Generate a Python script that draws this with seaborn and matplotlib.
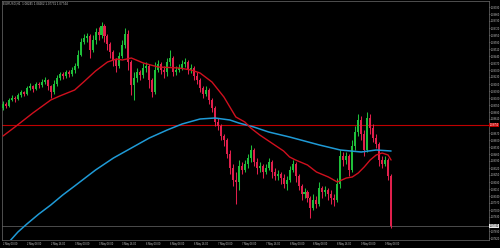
import matplotlib
matplotlib.use("Agg")
import matplotlib.pyplot as plt
import numpy as np
import pandas as pd
import seaborn as sns

# ---------------- data (EURUSD H1) ----------------
first_open = 1.0892
closes = [1.0896, 1.0894, 1.0900, 1.0902, 1.0901, 1.0905, 1.0908, 1.0906, 1.0912, 1.0914,
          1.0911, 1.0916, 1.0915, 1.0918, 1.0920, 1.0914, 1.0908, 1.0916, 1.0922, 1.0926,
          1.0924, 1.0928, 1.0926, 1.0930, 1.0934, 1.0945, 1.0958, 1.0962, 1.0964, 1.0950,
          1.0960, 1.0968, 1.0965, 1.0974, 1.0964, 1.0956, 1.0948, 1.0940, 1.0934, 1.0944,
          1.0955, 1.0966, 1.0938, 1.0915, 1.0922, 1.0928, 1.0925, 1.0932, 1.0934, 1.0920,
          1.0908, 1.0930, 1.0936, 1.0930, 1.0928, 1.0938, 1.0942, 1.0928, 1.0930, 1.0932,
          1.0936, 1.0938, 1.0930, 1.0932, 1.0924, 1.0920, 1.0912, 1.0906, 1.0910, 1.0900,
          1.0892, 1.0878, 1.0874, 1.0864, 1.0860, 1.0846, 1.0832, 1.0820, 1.0818, 1.0834,
          1.0830, 1.0836, 1.0842, 1.0850, 1.0838, 1.0832, 1.0834, 1.0828, 1.0832, 1.0838,
          1.0828, 1.0824, 1.0826, 1.0822, 1.0816, 1.0820, 1.0830, 1.0836, 1.0824, 1.0814,
          1.0806, 1.0808, 1.0802, 1.0792, 1.0800, 1.0796, 1.0812, 1.0808, 1.0810, 1.0806,
          1.0802, 1.0800, 1.0816, 1.0844, 1.0840, 1.0844, 1.0830, 1.0854, 1.0868, 1.0880,
          1.0866, 1.0850, 1.0882, 1.0872, 1.0862, 1.0856, 1.0840, 1.0836, 1.0840, 1.0824,
          1.0774]
highs = [1.0899, 1.0898, 1.0902, 1.0905, 1.0904, 1.0907, 1.0910, 1.0909, 1.0914, 1.0917,
         1.0915, 1.0918, 1.0918, 1.0921, 1.0923, 1.0921, 1.0915, 1.0920, 1.0925, 1.0928,
         1.0928, 1.0930, 1.0930, 1.0933, 1.0937, 1.0950, 1.0962, 1.0966, 1.0967, 1.0966,
         1.0965, 1.0972, 1.0973, 1.0978, 1.0976, 1.0966, 1.0958, 1.0950, 1.0942, 1.0948,
         1.0960, 1.0972, 1.0970, 1.0940, 1.0928, 1.0932, 1.0930, 1.0937, 1.0938, 1.0936,
         1.0922, 1.0938, 1.0940, 1.0938, 1.0934, 1.0942, 1.0950, 1.0944, 1.0934, 1.0936,
         1.0940, 1.0942, 1.0940, 1.0936, 1.0934, 1.0928, 1.0922, 1.0914, 1.0914, 1.0912,
         1.0902, 1.0894, 1.0882, 1.0876, 1.0866, 1.0862, 1.0850, 1.0836, 1.0828, 1.0840,
         1.0838, 1.0840, 1.0846, 1.0855, 1.0852, 1.0842, 1.0838, 1.0836, 1.0836, 1.0842,
         1.0840, 1.0832, 1.0830, 1.0828, 1.0826, 1.0824, 1.0834, 1.0840, 1.0838, 1.0826,
         1.0816, 1.0812, 1.0810, 1.0804, 1.0806, 1.0804, 1.0818, 1.0814, 1.0814, 1.0812,
         1.0810, 1.0806, 1.0822, 1.0850, 1.0848, 1.0848, 1.0846, 1.0860, 1.0874, 1.0886,
         1.0884, 1.0870, 1.0888, 1.0886, 1.0876, 1.0866, 1.0858, 1.0844, 1.0844, 1.0842,
         1.0826]
lows = [1.0890, 1.0892, 1.0893, 1.0899, 1.0898, 1.0900, 1.0903, 1.0904, 1.0905, 1.0910,
        1.0908, 1.0910, 1.0912, 1.0913, 1.0916, 1.0910, 1.0902, 1.0906, 1.0914, 1.0920,
        1.0921, 1.0922, 1.0923, 1.0924, 1.0927, 1.0932, 1.0944, 1.0956, 1.0958, 1.0942,
        1.0948, 1.0956, 1.0960, 1.0962, 1.0958, 1.0950, 1.0942, 1.0934, 1.0928, 1.0932,
        1.0942, 1.0952, 1.0930, 1.0905, 1.0900, 1.0918, 1.0920, 1.0922, 1.0928, 1.0912,
        1.0903, 1.0906, 1.0928, 1.0926, 1.0922, 1.0924, 1.0934, 1.0924, 1.0925, 1.0928,
        1.0930, 1.0933, 1.0926, 1.0927, 1.0920, 1.0916, 1.0908, 1.0902, 1.0904, 1.0896,
        1.0888, 1.0874, 1.0870, 1.0860, 1.0854, 1.0842, 1.0826, 1.0814, 1.0796, 1.0810,
        1.0826, 1.0828, 1.0832, 1.0838, 1.0834, 1.0826, 1.0828, 1.0822, 1.0826, 1.0830,
        1.0822, 1.0820, 1.0820, 1.0816, 1.0812, 1.0810, 1.0818, 1.0828, 1.0818, 1.0810,
        1.0800, 1.0802, 1.0798, 1.0782, 1.0790, 1.0792, 1.0794, 1.0802, 1.0804, 1.0800,
        1.0796, 1.0794, 1.0798, 1.0812, 1.0834, 1.0836, 1.0824, 1.0828, 1.0850, 1.0864,
        1.0860, 1.0844, 1.0848, 1.0866, 1.0858, 1.0852, 1.0834, 1.0832, 1.0834, 1.0820,
        1.0772]
opens = [first_open] + closes[:-1]

# moving averages (sampled at bar index)
ma_fast_idx = [0, 4, 10, 16, 19, 24, 27, 31, 35, 38, 40, 43, 47, 52, 59, 63, 66, 70, 74, 76,
               78, 81, 83, 86, 90, 94, 96, 98, 102, 105, 109, 112, 115, 117, 119, 121, 123,
               125, 127, 129, 130]
ma_fast = [1.0864, 1.0873, 1.0887, 1.0900, 1.0904, 1.0910, 1.0918, 1.0929, 1.0938, 1.0941,
           1.0940, 1.0942, 1.0937, 1.0933, 1.0932, 1.0930, 1.0927, 1.0918, 1.0903, 1.0893,
           1.0883, 1.0878, 1.0872, 1.0865, 1.0857, 1.0849, 1.0843, 1.0840, 1.0835, 1.0828,
           1.0823, 1.0818, 1.0822, 1.0823, 1.0827, 1.0833, 1.0840, 1.0845, 1.0847, 1.0845,
           1.0840]
ma_slow_idx = [0, 2, 5, 8, 12, 16, 20, 24, 31, 37, 43, 49, 55, 60, 66, 71, 76, 79, 84, 89,
               96, 106, 113, 120, 125, 130]
ma_slow = [1.0748, 1.0758, 1.0768, 1.0776, 1.0786, 1.0795, 1.0805, 1.0814, 1.0830, 1.0842,
           1.0852, 1.0862, 1.0870, 1.0876, 1.0881, 1.0882, 1.0880, 1.0877, 1.0873, 1.0868,
           1.0863, 1.0855, 1.0850, 1.0848, 1.0850, 1.0849]

level_line = 1.0875
bid_price = 1.0774

time_labels = ["2 May 00:00", "2 May 08:00", "2 May 16:00", "3 May 00:00", "3 May 08:00",
               "3 May 16:00", "6 May 00:00", "6 May 08:00", "6 May 16:00", "7 May 00:00",
               "7 May 08:00", "7 May 16:00", "8 May 00:00", "8 May 08:00", "8 May 16:00",
               "9 May 00:00", "9 May 08:00"]
title_text = "EURUSD,H1  1.08245 1.08262 1.07731 1.07744"

# ---------------- style ----------------
sns.set_theme(style="dark", rc={"axes.facecolor": "black", "figure.facecolor": "black",
                                "axes.edgecolor": "#6e6e6e", "axes.grid": False})
plt.rcParams["font.family"] = ["Liberation Sans", "DejaVu Sans"]

BULL = "#1fbf3a"
BEAR = "#e0204c"
FS = 1.8

fig = plt.figure(figsize=(5.0, 2.48), dpi=100)
ax = fig.add_axes([2 / 500, 1 - 240 / 248, 487 / 500, 239 / 248])

df = pd.DataFrame({"open": opens, "high": highs, "low": lows, "close": closes})
df["idx"] = np.arange(len(df))
up = df["close"] >= df["open"]
colors = np.where(up, BULL, BEAR)

# wicks
ax.vlines(df["idx"], df["low"], df["high"], colors=colors, linewidth=0.75, zorder=2)
# bodies
body_bottom = np.minimum(df["open"], df["close"])
body_h = np.maximum(np.abs(df["close"] - df["open"]), 0.00006)
ax.bar(df["idx"], body_h, bottom=body_bottom, width=0.68, color=colors,
       linewidth=0, zorder=3)

# moving averages
sns.lineplot(x=ma_slow_idx, y=ma_slow, ax=ax, color="#1f9ad6", linewidth=1.1, zorder=4)
sns.lineplot(x=ma_fast_idx, y=ma_fast, ax=ax, color="#d0101e", linewidth=1.0, zorder=5)

# horizontal lines
ax.axhline(level_line, color="#c00000", linewidth=0.8, zorder=1)
ax.axhline(bid_price, color="#6a6a6a", linewidth=0.5, zorder=1)

ax.set_xlim(-0.335, 162.8)
ax.set_ylim(1.0760, 1.0999)

# right price axis (skip ticks hidden behind the price boxes)
ax.yaxis.tick_right()
yt_all = np.round(np.arange(1.0762, 1.0996, 0.0007), 5)
yt = [v for v in yt_all if abs(v - level_line) > 0.00045 and abs(v - bid_price) > 0.00045]
ax.set_yticks(yt)
ax.set_yticklabels([f"{v:.5f}" for v in yt])
ax.tick_params(axis="y", labelsize=FS, colors="#c8c8c8", length=0.6, width=0.4, pad=0.4)

# bottom time axis
xt = np.arange(0, 8 * len(time_labels), 8)
ax.set_xticks(xt)
ax.set_xticklabels(time_labels, ha="left")
ax.tick_params(axis="x", labelsize=FS, colors="#c8c8c8", length=0.8, width=0.4, pad=0.8)

for s in ax.spines.values():
    s.set_color("#6e6e6e")
    s.set_linewidth(0.5)

# price labels on right axis
ax.text(1.0015, level_line, f"{level_line:.5f}", transform=ax.get_yaxis_transform(),
        fontsize=FS, color="white", va="center", ha="left",
        bbox=dict(boxstyle="square,pad=0.15", fc="#c00000", ec="none"))
ax.text(1.0015, bid_price, f"{bid_price:.5f}", transform=ax.get_yaxis_transform(),
        fontsize=FS, color="black", va="center", ha="left",
        bbox=dict(boxstyle="square,pad=0.15", fc="#e8e8e8", ec="none"))

ax.text(0.003, 0.997, title_text, transform=ax.transAxes, fontsize=2.2,
        color="#bdbdbd", va="top", ha="left")

fig.savefig("out.png", dpi=100, facecolor="black")
